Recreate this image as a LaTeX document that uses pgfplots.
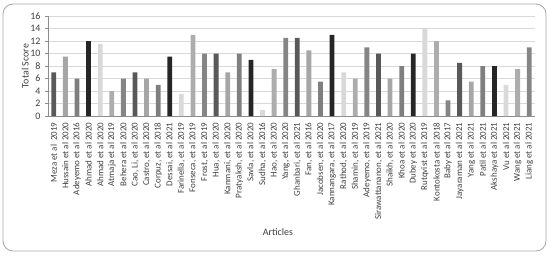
\documentclass[border=0pt]{standalone}
\usepackage{fontspec}
\setmainfont{Carlito}
\usepackage{pgfplots}
\pgfplotsset{compat=1.18}
\definecolor{cA}{HTML}{595959}
\definecolor{cB}{HTML}{A6A6A6}
\definecolor{cC}{HTML}{7F7F7F}
\definecolor{cD}{HTML}{262626}
\definecolor{cE}{HTML}{D9D9D9}
\definecolor{cF}{HTML}{ADADAD}
\definecolor{cG}{HTML}{858585}
\definecolor{txt}{HTML}{404040}
\begin{document}
\begin{tikzpicture}[x=1bp,y=1bp]
\path[use as bounding box] (0,0) rectangle (550,256);
\draw[rounded corners=10bp, color=black!35, line width=0.8bp] (3,5) rectangle (546,252);
\begin{axis}[
  at={(48bp,140bp)}, anchor=south west,
  scale only axis, width=487bp, height=100bp,
  xmin=0.5, xmax=42.5, ymin=0, ymax=16,
  ytick={0,2,...,16},
  xtick={1,...,42},
  xticklabels={Meza et al\ \ 2019, Hussain et al 2020, Adeyemo et al 2016, Ahmad et al 2020, Ahmad et al 2020, Atmaja et al 2019, Behera et al 2020, {Cao, Li, et al 2020}, {Castro, et al 2020}, {Corpuz, et al 2018}, {Dessai, et al 2021}, {Farinella, et al 2019}, {Fonseca, et al 2019}, {Frost, et al 2019}, {Hua, et al 2020}, {Kanmani, et al 2020}, {Pratyaksh, et al 2020}, {Savla, et al 2020}, {Sudha, et al 2016}, {Hao, et al 2020}, {Yang, et al 2020}, {Ghanbari, et al 2021}, {Fan, et al 2016}, {Jacobsen, et al 2020}, {Kannangara, et al 2017}, {Rathod, et al 2020}, {Shamin, et al 2019}, {Adeyemo, et al 2019}, {Sirawattananon, et al 2021}, {Shaikh, et al 2020}, Khoa et al 2020, Dubey et al 2020, Rutqvist et al 2019, Kontokosta et al 2018, Baby et al 2017, Jayaraman et al 2021, Yang et al 2021, Patil et al 2021, Akshaya et al 2021, Vu et al 2021, Wang et al 2021, Liang et al 2021},
  axis lines*=left,
  axis line style={color=black!45, line width=0.8bp},
  ymajorgrids, grid style={color=black!15, line width=0.8bp},
  tick align=outside,
  ytick style={color=black!45, line width=0.8bp},
  major tick length=3bp,
  xtick style={draw=none},
  /pgf/number format/assume math mode=true,
  yticklabel style={font=\fontsize{10}{11}\selectfont, text=txt, xshift=-1bp},
  xticklabel style={rotate=90, anchor=east, font=\fontsize{9}{10}\selectfont, text=txt, yshift=0bp},
  ylabel={Total Score},
  ylabel style={at={(axis description cs:-0.047,0.5)}, anchor=center, font=\fontsize{10}{11}\selectfont, text=txt},
  xlabel={Articles},
  xlabel style={at={(axis description cs:0.472,-1.16)}, anchor=center, font=\fontsize{10}{11}\selectfont, text=txt},
]
\addplot[ybar, bar shift=0pt, bar width=4.8bp, fill=cA, draw=none] coordinates {(1,7) (8,7) (15,10) (22,12.5) (29,10) (36,8.5)};
\addplot[ybar, bar shift=0pt, bar width=4.8bp, fill=cB, draw=none] coordinates {(2,9.5) (9,6) (16,7) (23,10.5) (30,6) (37,5.5)};
\addplot[ybar, bar shift=0pt, bar width=4.8bp, fill=cC, draw=none] coordinates {(3,6) (10,5) (17,10) (24,5.5) (31,8) (38,8)};
\addplot[ybar, bar shift=0pt, bar width=4.8bp, fill=cD, draw=none] coordinates {(4,12) (11,9.5) (18,9) (25,13) (32,10) (39,8)};
\addplot[ybar, bar shift=0pt, bar width=4.8bp, fill=cE, draw=none] coordinates {(5,11.5) (12,3.5) (19,1) (26,7) (33,14) (40,5)};
\addplot[ybar, bar shift=0pt, bar width=4.8bp, fill=cF, draw=none] coordinates {(6,4) (13,13) (20,7.5) (27,6) (34,12) (41,7.5)};
\addplot[ybar, bar shift=0pt, bar width=4.8bp, fill=cG, draw=none] coordinates {(7,6) (14,10) (21,12.5) (28,11) (35,2.5) (42,11)};
\end{axis}
\end{tikzpicture}
\end{document}
